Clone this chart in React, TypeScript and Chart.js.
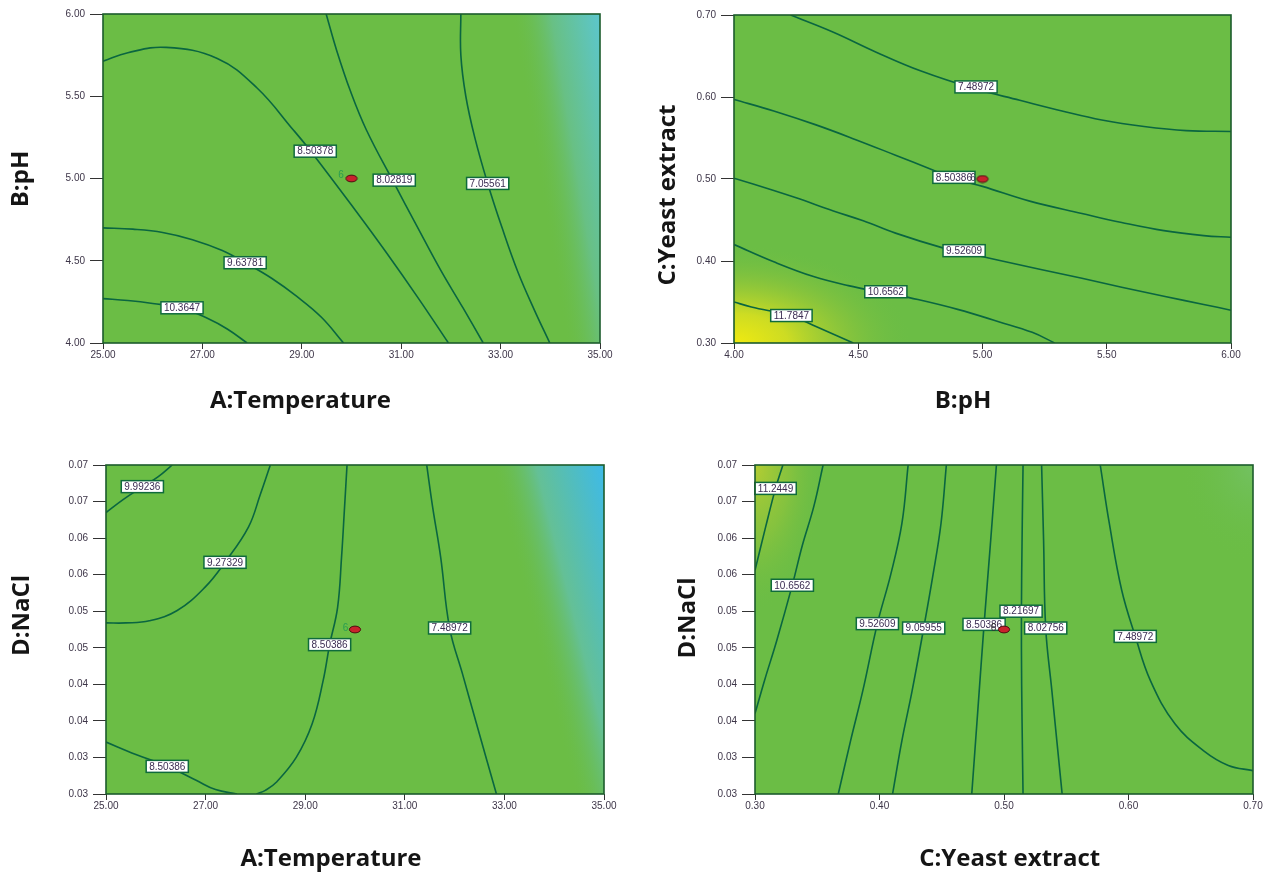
import React, { useEffect, useRef } from "react";
import { Chart, registerables } from "chart.js";

Chart.register(...registerables);

type Pt = [number, number];
type Lbl = { text: string; x: number; y: number };

// ---------- axis ticks ----------
const tempTickValues = [25, 27, 29, 31, 33, 35];
const tempTickLabels = ["25.00", "27.00", "29.00", "31.00", "33.00", "35.00"];
const phTickValues = [4, 4.5, 5, 5.5, 6];
const phTickLabels = ["4.00", "4.50", "5.00", "5.50", "6.00"];
const yeastTickValues = [0.3, 0.4, 0.5, 0.6, 0.7];
const yeastTickLabels = ["0.30", "0.40", "0.50", "0.60", "0.70"];
const naclTickValues = [0.03, 0.035, 0.04, 0.045, 0.05, 0.055, 0.06, 0.065, 0.07, 0.075];
const naclTickLabels = ["0.03", "0.03", "0.04", "0.04", "0.05", "0.05", "0.06", "0.06", "0.07", "0.07"];

// ---------- panel 1: A:Temperature x B:pH ----------
const p1Contour103647: Pt[] = [[25, 4.27], [25.5, 4.258], [26, 4.24], [26.59, 4.212], [27.1, 4.15], [27.5, 4.085], [27.9, 4.0]];
const p1Contour963781: Pt[] = [[25, 4.7], [25.6, 4.692], [26.2, 4.672], [26.8, 4.628], [27.4, 4.562], [27.86, 4.488], [28.4, 4.392], [28.9, 4.283], [29.4, 4.155], [29.84, 4.0]];
const p1Contour850378: Pt[] = [[25, 5.713], [25.5, 5.765], [26.27, 5.797], [27.3, 5.73], [28.1, 5.55], [28.83, 5.295], [29.18, 5.166], [30.07, 4.81], [30.7, 4.55], [31.35, 4.27], [31.95, 4.0]];
const p1Contour802819: Pt[] = [[29.49, 6.0], [29.7, 5.78], [29.98, 5.53], [30.3, 5.295], [30.86, 4.97], [31.3, 4.72], [31.8, 4.44], [32.25, 4.21], [32.65, 4.0]];
const p1Contour705561: Pt[] = [[32.2, 6.0], [32.2, 5.75], [32.3, 5.5], [32.48, 5.25], [32.74, 4.97], [33.03, 4.7], [33.35, 4.43], [33.68, 4.2], [33.99, 4.0]];
const p1Labels: Lbl[] = [
  { text: "8.50378", x: 29.27, y: 5.166 },
  { text: "8.02819", x: 30.86, y: 4.99 },
  { text: "7.05561", x: 32.74, y: 4.97 },
  { text: "9.63781", x: 27.86, y: 4.488 },
  { text: "10.3647", x: 26.59, y: 4.214 },
];
const p1Center: Pt = [30, 5.0];
const p1Count: Lbl = { text: "6", x: 29.79, y: 5.017 };

// ---------- panel 2: B:pH x C:Yeast extract ----------
const p2Contour748972: Pt[] = [[4.228, 0.7], [4.4, 0.679], [4.57, 0.655], [4.75, 0.632], [4.97, 0.61], [5.15, 0.596], [5.32, 0.583], [5.48, 0.572], [5.65, 0.564], [5.82, 0.559], [6.0, 0.558]];
const p2Contour850386: Pt[] = [[4.0, 0.597], [4.16, 0.583], [4.33, 0.566], [4.49, 0.548], [4.65, 0.529], [4.8, 0.511], [4.9, 0.499], [5.0, 0.491], [5.19, 0.473], [5.4, 0.458], [5.56, 0.447], [5.73, 0.437], [5.89, 0.431], [6.0, 0.429]];
const p2Contour952609: Pt[] = [[4.0, 0.501], [4.16, 0.486], [4.25, 0.477], [4.4, 0.461], [4.52, 0.449], [4.65, 0.434], [4.84, 0.416], [4.93, 0.41], [5.065, 0.401], [5.23, 0.39], [5.4, 0.379], [5.56, 0.368], [5.73, 0.357], [5.89, 0.347], [6.0, 0.34]];
const p2Contour106562: Pt[] = [[4.0, 0.42], [4.16, 0.399], [4.32, 0.381], [4.46, 0.37], [4.61, 0.361], [4.74, 0.353], [4.9, 0.341], [5.065, 0.326], [5.2, 0.313], [5.29, 0.3]];
const p2Contour117847: Pt[] = [[4.0, 0.35], [4.07, 0.344], [4.23, 0.333], [4.33, 0.32], [4.48, 0.3]];
const p2Labels: Lbl[] = [
  { text: "7.48972", x: 4.974, y: 0.6123 },
  { text: "8.50386", x: 4.885, y: 0.502 },
  { text: "9.52609", x: 4.926, y: 0.4126 },
  { text: "10.6562", x: 4.611, y: 0.3625 },
  { text: "11.7847", x: 4.231, y: 0.3335 },
];
const p2Center: Pt = [5.0, 0.5];
const p2Count: Lbl = { text: "6", x: 4.962, y: 0.501 };

// ---------- panel 3: A:Temperature x D:NaCl ----------
const p3Contour999236: Pt[] = [[25, 0.0685], [25.35, 0.0703], [25.73, 0.072], [26.05, 0.0734], [26.33, 0.075]];
const p3Contour927329: Pt[] = [[28.3, 0.075], [28.1, 0.071], [27.86, 0.0665], [27.39, 0.0617], [26.99, 0.0583], [26.43, 0.0551], [25.87, 0.0537], [25.4, 0.0534], [25, 0.0534]];
const p3Contour850386a: Pt[] = [[29.84, 0.075], [29.79, 0.0692], [29.73, 0.0624], [29.65, 0.0555], [29.49, 0.0504], [29.36, 0.0455], [29.14, 0.0396], [28.82, 0.035], [28.42, 0.0316], [28.2, 0.0305], [28.02, 0.03]];
const p3Contour850386b: Pt[] = [[25, 0.0371], [25.6, 0.0354], [26.23, 0.0338], [26.83, 0.0318], [27.2, 0.0306], [27.63, 0.03]];
const p3Contour748972: Pt[] = [[31.44, 0.075], [31.56, 0.0692], [31.72, 0.0624], [31.9, 0.0527], [32.16, 0.0464], [32.44, 0.0396], [32.84, 0.03]];
const p3Labels: Lbl[] = [
  { text: "9.99236", x: 25.73, y: 0.07204 },
  { text: "9.27329", x: 27.39, y: 0.06169 },
  { text: "8.50386", x: 29.49, y: 0.05043 },
  { text: "7.48972", x: 31.9, y: 0.05271 },
  { text: "8.50386", x: 26.23, y: 0.03378 },
];
const p3Center: Pt = [30, 0.0525];
const p3Count: Lbl = { text: "6", x: 29.81, y: 0.0527 };

// ---------- panel 4: C:Yeast extract x D:NaCl ----------
const p4Contour112449: Pt[] = [[0.3224, 0.075], [0.3165, 0.0718], [0.3085, 0.0665], [0.3, 0.0606]];
const p4Contour106562: Pt[] = [[0.3547, 0.075], [0.3472, 0.0693], [0.338, 0.064], [0.33, 0.0586], [0.3175, 0.051], [0.3076, 0.0455], [0.3, 0.041]];
const p4Contour952609: Pt[] = [[0.423, 0.075], [0.418, 0.067], [0.409, 0.06], [0.3983, 0.0533], [0.3867, 0.0442], [0.3768, 0.0373], [0.3669, 0.03]];
const p4Contour905955: Pt[] = [[0.4537, 0.075], [0.4494, 0.067], [0.443, 0.06], [0.4355, 0.0527], [0.4263, 0.0442], [0.418, 0.0373], [0.4105, 0.03]];
const p4Contour850386: Pt[] = [[0.4939, 0.075], [0.489, 0.064], [0.484, 0.0532], [0.479, 0.0415], [0.4741, 0.03]];
const p4Contour821697: Pt[] = [[0.5153, 0.075], [0.5142, 0.06], [0.514, 0.05], [0.5145, 0.04], [0.5153, 0.03]];
const p4Contour802756: Pt[] = [[0.5302, 0.075], [0.5318, 0.0647], [0.5335, 0.0527], [0.5384, 0.0442], [0.5467, 0.03]];
const p4Contour748972: Pt[] = [[0.5773, 0.075], [0.5846, 0.067], [0.5945, 0.0579], [0.6054, 0.0516], [0.6176, 0.0455], [0.6373, 0.0396], [0.6604, 0.0359], [0.6802, 0.0339], [0.7, 0.0332]];
const p4Labels: Lbl[] = [
  { text: "11.2449", x: 0.3165, y: 0.0718 },
  { text: "10.6562", x: 0.33, y: 0.05855 },
  { text: "9.52609", x: 0.3983, y: 0.0533 },
  { text: "9.05955", x: 0.4355, y: 0.0527 },
  { text: "8.21697", x: 0.5137, y: 0.055 },
  { text: "8.50386", x: 0.484, y: 0.0532 },
  { text: "8.02756", x: 0.5335, y: 0.0527 },
  { text: "7.48972", x: 0.6054, y: 0.05156 },
];
const p4Center: Pt = [0.5, 0.0525];
const p4Count: Lbl = { text: "6", x: 0.4916, y: 0.0527 };

// ---------- styles ----------
const GREEN = "#6bbd45";
const LINE = "#0a6640";
const FRAME = "#1c5c2c";
const TICK = "#333333";
const TICKTEXT = "#3d3548";
const BOXBORDER = "#0f6b3c";
const BOXTEXT = "#3b2d52";

type Area = { left: number; top: number; right: number; bottom: number; width: number; height: number };

function fillBase(ctx: CanvasRenderingContext2D, a: Area) {
  ctx.fillStyle = GREEN;
  ctx.fillRect(a.left, a.top, a.width, a.height);
}

function linearField(ctx: CanvasRenderingContext2D, a: Area, s: Pt, e: Pt, stops: [number, string][]) {
  const g = ctx.createLinearGradient(a.left + s[0] * a.width, a.top + s[1] * a.height, a.left + e[0] * a.width, a.top + e[1] * a.height);
  stops.forEach(([o, c]) => g.addColorStop(o, c));
  ctx.fillStyle = g;
  ctx.fillRect(a.left, a.top, a.width, a.height);
}

function cornerField(ctx: CanvasRenderingContext2D, a: Area, cx: number, cy: number, rx: number, ry: number, stops: [number, string][]) {
  ctx.save();
  ctx.beginPath();
  ctx.rect(a.left, a.top, a.width, a.height);
  ctx.clip();
  ctx.translate(a.left + cx * a.width, a.top + cy * a.height);
  const R = rx * a.width;
  ctx.scale(1, (ry * a.height) / R);
  const g = ctx.createRadialGradient(0, 0, 0, 0, 0, R);
  stops.forEach(([o, c]) => g.addColorStop(o, c));
  ctx.fillStyle = g;
  ctx.fillRect(-R, -R, 2 * R, 2 * R);
  ctx.restore();
}

const bg1 = (ctx: CanvasRenderingContext2D, a: Area) => {
  fillBase(ctx, a);
  linearField(ctx, a, [0.82, 0], [0.995, -0.044], [[0, "rgba(107,189,69,0)"], [0.45, "rgba(104,192,132,1)"], [1, "rgba(92,198,205,1)"]]);
};
const bg2 = (ctx: CanvasRenderingContext2D, a: Area) => {
  fillBase(ctx, a);
  cornerField(ctx, a, 0, 1, 0.36, 0.3, [[0, "rgba(240,234,16,1)"], [0.3, "rgba(205,220,35,1)"], [0.65, "rgba(150,200,55,0.6)"], [1, "rgba(107,189,69,0)"]]);
};
const bg3 = (ctx: CanvasRenderingContext2D, a: Area) => {
  fillBase(ctx, a);
  linearField(ctx, a, [0.772, 0], [0.986, -0.082], [[0, "rgba(107,189,69,0)"], [0.4, "rgba(100,192,150,1)"], [1, "rgba(62,186,232,1)"]]);
};
const bg4 = (ctx: CanvasRenderingContext2D, a: Area) => {
  fillBase(ctx, a);
  cornerField(ctx, a, 0, 0, 0.14, 0.45, [[0, "rgba(180,205,50,1)"], [0.5, "rgba(150,198,58,0.6)"], [1, "rgba(107,189,69,0)"]]);
  cornerField(ctx, a, 1, 0, 0.15, 0.3, [[0, "rgba(118,195,110,0.7)"], [1, "rgba(107,189,69,0)"]]);
};

interface Panel {
  id: string;
  left: number; top: number; width: number; height: number;
  padTop: number; padRight: number; yWidth: number; xHeight: number;
  xMin: number; xMax: number; yMin: number; yMax: number;
  xTicks: number[]; xLabels: string[]; yTicks: number[]; yLabels: string[];
  xTitle: string; yTitle: string; xTitlePos: Pt; yTitlePos: Pt;
  contours: Pt[][]; labels: Lbl[]; center: Pt; count: Lbl; countColor: string;
  bg: (ctx: CanvasRenderingContext2D, a: Area) => void;
}

const panels: Panel[] = [
  {
    id: "p1", left: 0, top: 0, width: 636, height: 437, padTop: 14, padRight: 36, yWidth: 103, xHeight: 94,
    xMin: 25, xMax: 35, yMin: 4, yMax: 6,
    xTicks: tempTickValues, xLabels: tempTickLabels, yTicks: phTickValues, yLabels: phTickLabels,
    xTitle: "A:Temperature", yTitle: "B:pH", xTitlePos: [300.5, 408], yTitlePos: [28, 179],
    contours: [p1Contour103647, p1Contour963781, p1Contour850378, p1Contour802819, p1Contour705561],
    labels: p1Labels, center: p1Center, count: p1Count, countColor: "#2a9e50", bg: bg1,
  },
  {
    id: "p2", left: 636, top: 0, width: 637, height: 437, padTop: 15, padRight: 42, yWidth: 98, xHeight: 94,
    xMin: 4, xMax: 6, yMin: 0.3, yMax: 0.7,
    xTicks: phTickValues, xLabels: phTickLabels, yTicks: yeastTickValues, yLabels: yeastTickLabels,
    xTitle: "B:pH", yTitle: "C:Yeast extract", xTitlePos: [327, 408], yTitlePos: [39, 195],
    contours: [p2Contour748972, p2Contour850386, p2Contour952609, p2Contour106562, p2Contour117847],
    labels: p2Labels, center: p2Center, count: p2Count, countColor: "#3b2d52", bg: bg2,
  },
  {
    id: "p3", left: 0, top: 437, width: 636, height: 437, padTop: 28, padRight: 32, yWidth: 106, xHeight: 80,
    xMin: 25, xMax: 35, yMin: 0.03, yMax: 0.075,
    xTicks: tempTickValues, xLabels: tempTickLabels, yTicks: naclTickValues, yLabels: naclTickLabels,
    xTitle: "A:Temperature", yTitle: "D:NaCl", xTitlePos: [331, 429], yTitlePos: [29, 178.5],
    contours: [p3Contour999236, p3Contour927329, p3Contour850386a, p3Contour850386b, p3Contour748972],
    labels: p3Labels, center: p3Center, count: p3Count, countColor: "#2a9e50", bg: bg3,
  },
  {
    id: "p4", left: 636, top: 437, width: 637, height: 437, padTop: 28, padRight: 20, yWidth: 119, xHeight: 80,
    xMin: 0.3, xMax: 0.7, yMin: 0.03, yMax: 0.075,
    xTicks: yeastTickValues, xLabels: yeastTickLabels, yTicks: naclTickValues, yLabels: naclTickLabels,
    xTitle: "C:Yeast extract", yTitle: "D:NaCl", xTitlePos: [373.7, 429], yTitlePos: [59, 181],
    contours: [p4Contour112449, p4Contour106562, p4Contour952609, p4Contour905955, p4Contour850386, p4Contour821697, p4Contour802756, p4Contour748972],
    labels: p4Labels, center: p4Center, count: p4Count, countColor: "#333333", bg: bg4,
  },
];

function makeDot(): HTMLCanvasElement {
  const c = document.createElement("canvas");
  c.width = 14;
  c.height = 9;
  const ctx = c.getContext("2d")!;
  ctx.beginPath();
  ctx.ellipse(7, 4.5, 5.6, 3.4, 0, 0, Math.PI * 2);
  ctx.fillStyle = "#c8232c";
  ctx.fill();
  ctx.lineWidth = 1;
  ctx.strokeStyle = "#4a1010";
  ctx.stroke();
  return c;
}

function PanelChart({ p }: { p: Panel }) {
  const ref = useRef<HTMLCanvasElement>(null);
  useEffect(() => {
    const canvas = ref.current!;
    const dot = makeDot();
    const datasets: any[] = [
      { data: [{ x: p.center[0], y: p.center[1] }], pointStyle: dot, pointRadius: 6, showLine: false },
    ];
    p.contours.forEach((c) =>
      datasets.push({
        data: c.map(([x, y]) => ({ x, y })),
        showLine: true,
        borderColor: LINE,
        borderWidth: 1.6,
        pointRadius: 0,
        tension: 0.4,
        fill: false,
      })
    );
    const plugin = {
      id: "panel-" + p.id,
      beforeDraw(chart: any) {
        const ctx = chart.ctx as CanvasRenderingContext2D;
        ctx.save();
        p.bg(ctx, chart.chartArea);
        ctx.restore();
      },
      beforeDatasetDraw(chart: any, args: any) {
        if (args.index !== 0) return;
        const ctx = chart.ctx as CanvasRenderingContext2D;
        const xs = chart.scales.x;
        const ys = chart.scales.y;
        ctx.save();
        ctx.font = '10px "Liberation Sans"';
        ctx.textAlign = "center";
        ctx.textBaseline = "middle";
        p.labels.forEach((l) => {
          const px = xs.getPixelForValue(l.x);
          const py = ys.getPixelForValue(l.y);
          const w = ctx.measureText(l.text).width + 6;
          const h = 12;
          ctx.fillStyle = "#ffffff";
          ctx.fillRect(px - w / 2, py - h / 2, w, h);
          ctx.strokeStyle = BOXBORDER;
          ctx.lineWidth = 1.5;
          ctx.strokeRect(px - w / 2, py - h / 2, w, h);
          ctx.fillStyle = BOXTEXT;
          ctx.fillText(l.text, px, py + 0.5);
        });
        ctx.fillStyle = p.countColor;
        ctx.fillText(p.count.text, xs.getPixelForValue(p.count.x), ys.getPixelForValue(p.count.y));
        ctx.restore();
      },
      afterDraw(chart: any) {
        const ctx = chart.ctx as CanvasRenderingContext2D;
        const a = chart.chartArea;
        ctx.save();
        ctx.strokeStyle = FRAME;
        ctx.lineWidth = 1.6;
        ctx.strokeRect(a.left, a.top, a.width, a.height);
        ctx.font = 'bold 24px "Open Sans"';
        ctx.fillStyle = "#151515";
        ctx.textAlign = "center";
        ctx.textBaseline = "alphabetic";
        ctx.fillText(p.xTitle, p.xTitlePos[0], p.xTitlePos[1]);
        ctx.translate(p.yTitlePos[0], p.yTitlePos[1]);
        ctx.rotate(-Math.PI / 2);
        ctx.fillText(p.yTitle, 0, 0);
        ctx.restore();
      },
    };
    const tickFont = { family: "Liberation Sans", size: 10 };
    const chart = new Chart(canvas, {
      type: "scatter",
      data: { datasets },
      options: {
        responsive: false,
        animation: false,
        events: [],
        layout: { padding: { top: p.padTop, right: p.padRight, bottom: 0, left: 0 } },
        plugins: { legend: { display: false }, tooltip: { enabled: false } },
        scales: {
          x: {
            type: "linear",
            min: p.xMin,
            max: p.xMax,
            afterFit: (s: any) => { s.height = p.xHeight; },
            afterBuildTicks: (s: any) => { s.ticks = p.xTicks.map((value) => ({ value })); },
            ticks: {
              callback: (_v: any, i: number) => p.xLabels[i],
              font: tickFont,
              color: TICKTEXT,
              padding: 0,
              autoSkip: false,
              maxRotation: 0,
            },
            grid: { display: true, drawOnChartArea: false, drawTicks: true, tickLength: 6, tickColor: TICK, tickWidth: 1 },
            border: { display: false },
          },
          y: {
            type: "linear",
            min: p.yMin,
            max: p.yMax,
            afterFit: (s: any) => { s.width = p.yWidth; },
            afterBuildTicks: (s: any) => { s.ticks = p.yTicks.map((value) => ({ value })); },
            ticks: {
              callback: (_v: any, i: number) => p.yLabels[i],
              font: tickFont,
              color: TICKTEXT,
              padding: 5,
              autoSkip: false,
            },
            grid: { display: true, drawOnChartArea: false, drawTicks: true, tickLength: 13, tickColor: TICK, tickWidth: 1 },
            border: { display: false },
          },
        },
      } as any,
      plugins: [plugin],
    });
    return () => chart.destroy();
  }, [p]);
  return (
    <canvas
      ref={ref}
      width={p.width}
      height={p.height}
      style={{ position: "absolute", left: p.left, top: p.top, width: p.width, height: p.height }}
    />
  );
}

export default function App() {
  return (
    <div style={{ position: "absolute", left: 0, top: 0, width: 1273, height: 874, background: "#ffffff", overflow: "hidden" }}>
      {panels.map((p) => (
        <PanelChart key={p.id} p={p} />
      ))}
    </div>
  );
}
